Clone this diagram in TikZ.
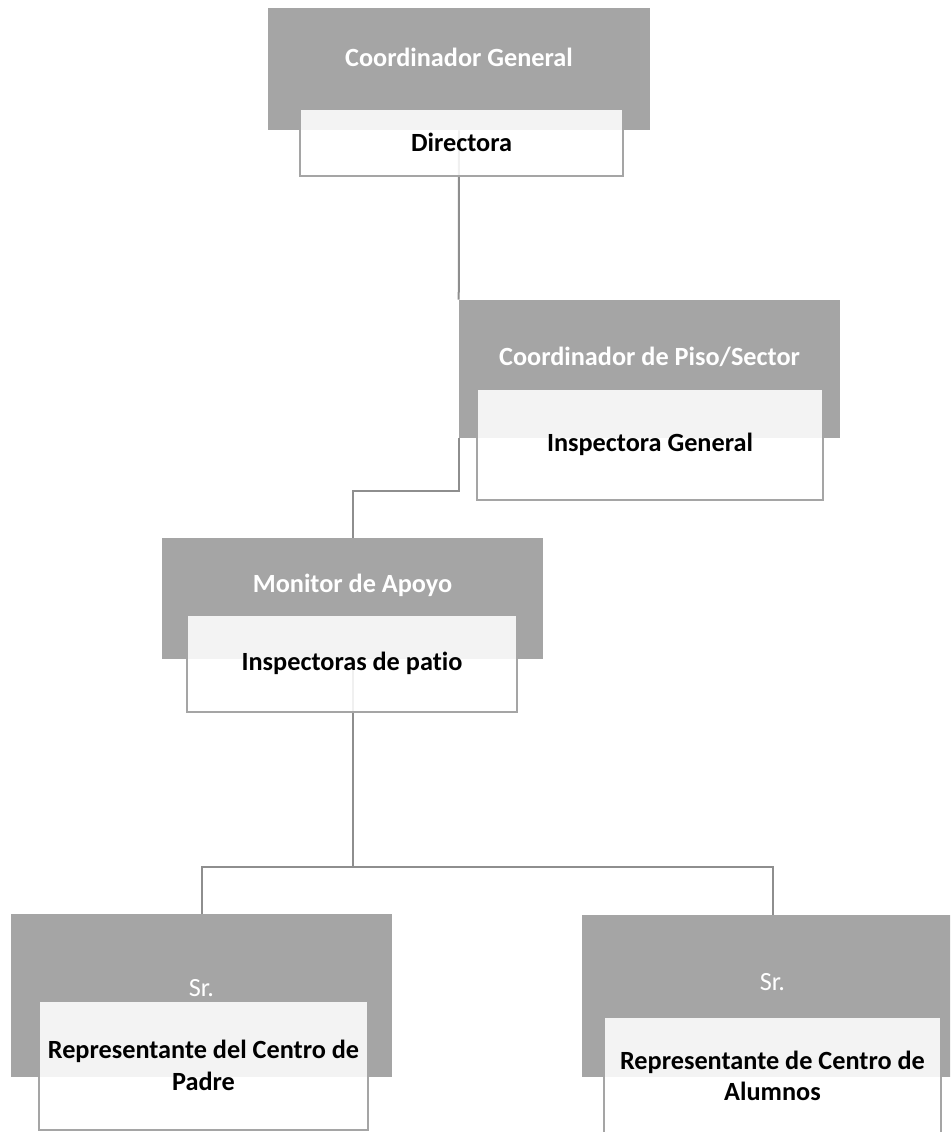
\documentclass[tikz,border=0pt]{standalone}
\usepackage{fontspec}
\setmainfont[Ligatures={NoCommon,NoDiscretionary}]{Carlito}
\usetikzlibrary{backgrounds}
\definecolor{boxgray}{HTML}{A5A5A5}
\definecolor{linegray}{HTML}{8E8E8E}
\begin{document}
\begin{tikzpicture}[x=0.75pt,y=-0.75pt,
    basefont/.style={font=\fontsize{19.7}{23.5}\selectfont\bfseries},
    graybox/.style={rectangle, fill=boxgray, inner sep=0pt},
    graytext/.style={basefont, text=white},
    whitebox/.style={basefont, rectangle, draw=boxgray, line width=1.5pt, fill=white,
        fill opacity=0.87, text opacity=1, inner sep=0pt, align=center},
    link/.style={draw=linegray, line width=1.5pt}]
\useasboundingbox (0,0) rectangle (950,1132);
\clip (0,0) rectangle (950,1132);

% top
\node[graybox, minimum width=286.5pt, minimum height=91.5pt] (cg) at (459,69) {};
\node[graytext] (cgtext) at (459,57) {Coordinador General};
\node[whitebox, minimum width=242.25pt, minimum height=50.25pt] (dir) at (461.5,142.5) {Directora};

% second level
\node[graybox, minimum width=285.75pt, minimum height=103.5pt] (cps) at (649.5,369) {};
\node[graytext] (cpstext) at (649.5,357) {Coordinador de Piso/Sector};
\node[whitebox, minimum width=259.5pt, minimum height=83.25pt] (ig) at (650,444.5) {Inspectora General};

% third level
\node[graybox, minimum width=285.75pt, minimum height=90.75pt] (mon) at (352.5,598.5) {};
\node[graytext] (montext) at (352.5,585) {Monitor de Apoyo};
\node[whitebox, minimum width=247.5pt, minimum height=72.75pt] (ip) at (352,663.5) {Inspectoras de patio};

% bottom
\node[graybox, minimum width=285.75pt, minimum height=122.25pt] (sr1) at (201.5,995.5) {};
\node[graytext, font=\fontsize{19.7}{23.5}\selectfont] (sr1text) at (201.5,988) {Sr.};
\node[whitebox, minimum width=246.75pt, minimum height=96.75pt] (rcp) at (203.5,1065.5) {Representante del Centro de\\Padre};

\node[graybox, minimum width=285.75pt, minimum height=121.5pt] (sr2) at (772.5,996) {};
\node[graytext, font=\fontsize{19.7}{23.5}\selectfont] (sr2text) at (772.5,982) {Sr.};
\node[whitebox, minimum width=252.75pt, minimum height=88.5pt] (rca) at (772.5,1076) {Representante de Centro de\\Alumnos};

% connectors
\begin{pgfonlayer}{background}
\draw[link] (cg.south) -- (cps.north west);
\draw[link] (cps.south west) -- ++(0,53) -| (mon.north);
\draw[link] (mon.south) -- ++(0,208) coordinate (fork) -| (sr1.north);
\draw[link] (fork) -| (sr2.north);
\end{pgfonlayer}
\end{tikzpicture}
\end{document}
